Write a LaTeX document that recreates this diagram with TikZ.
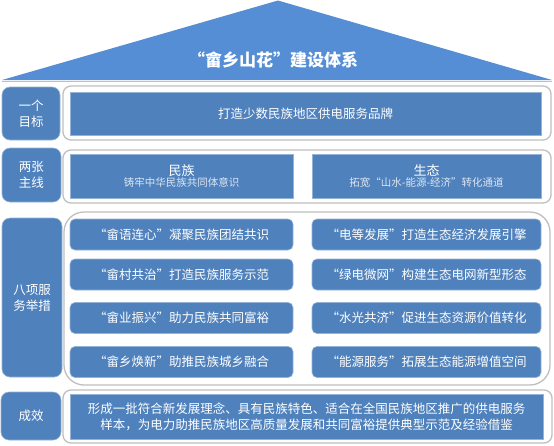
\documentclass[tikz,border=0pt]{standalone}
\usepackage{fontspec}
\newfontfamily\cjk{Noto Sans CJK SC}
\definecolor{triblue}{HTML}{558ED5}
\definecolor{boxblue}{HTML}{4F81BD}
\definecolor{edgeblue}{HTML}{95B3D7}
\definecolor{framegray}{HTML}{BFBFBF}
\definecolor{subtxt}{HTML}{DCE6F2}
\tikzset{
  lab/.style={fill=boxblue, draw=edgeblue, line width=0.6pt, rounded corners=8pt, text=white, align=center, inner sep=0pt, font=\cjk\fontsize{12.5}{16}\selectfont},
  frame/.style={fill=white, draw=framegray, line width=1.3pt, rounded corners=8pt, inner sep=0pt},
  inner/.style={fill=boxblue, draw=edgeblue, line width=0.8pt, text=white, align=center, inner sep=0pt},
  item/.style={fill=boxblue, draw=edgeblue, line width=0.6pt, rounded corners=5pt, text=white, inner sep=0pt, minimum width=223pt, minimum height=31pt, font=\cjk\fontsize{12.5}{15}\selectfont},
  itemr/.style={item, minimum width=229pt},
}
\begin{document}
\begin{tikzpicture}[x=1pt,y=-1pt]
\useasboundingbox (0,0) rectangle (554,445);
% roof
\draw[framegray, line width=1pt] (2,81.2) -- (552,81.2);
\fill[triblue] (2,80) -- (278,0.5) -- (552,80) -- cycle;
\node[text=white, font=\cjk\bfseries\fontsize{17}{20}\selectfont] (title) at (273,60) {“畲乡山花”建设体系};
% row 1
\node[lab, minimum width=58pt, minimum height=53pt] (l1) at (31,113.5) {一个\\目标};
\node[frame, minimum width=488pt, minimum height=54pt] (f1) at (307,113) {};
\node[inner, minimum width=471pt, minimum height=43pt, font=\cjk\fontsize{12.5}{15}\selectfont] (b1) at (305.5,113.5) {打造少数民族地区供电服务品牌};
% row 2
\node[lab, minimum width=59pt, minimum height=54pt] (l2) at (31.5,175) {两张\\主线};
\node[frame, minimum width=488pt, minimum height=53pt] (f2) at (307,176.5) {};
\node[inner, minimum width=223pt, minimum height=44pt] (b2a) at (181.5,176)
  {{\cjk\fontsize{13}{16}\selectfont 民族}\\[-1pt]{\cjk\color{subtxt}\fontsize{10.5}{13}\selectfont 铸牢中华民族共同体意识}};
\node[inner, minimum width=229pt, minimum height=44pt] (b2b) at (426.5,176)
  {{\cjk\fontsize{13}{16}\selectfont 生态}\\[-1pt]{\cjk\color{subtxt}\fontsize{10.5}{13}\selectfont 拓宽“山水-能源-经济”转化通道}};
% row 3
\node[lab, minimum width=60pt, minimum height=159pt] (l3) at (32,297.5) {八项服\\务举措};
\node[frame, rounded corners=20pt, minimum width=486pt, minimum height=173pt] (f3) at (307,298.5) {};
\node[item] (i1) at (181.5,234.5) {“畲语连心”凝聚民族团结共识};
\node[item] (i2) at (181.5,274.5) {“畲村共治”打造民族服务示范};
\node[item] (i3) at (181.5,318) {“畲业振兴”助力民族共同富裕};
\node[item] (i4) at (181.5,362) {“畲乡焕新”助推民族城乡融合};
\node[itemr] (j1) at (426.5,234.5) {“电等发展”打造生态经济发展引擎};
\node[itemr] (j2) at (426.5,274.5) {“绿电微网”构建生态电网新型形态};
\node[itemr] (j3) at (426.5,318) {“水光共济”促进生态资源价值转化};
\node[itemr] (j4) at (426.5,362) {“能源服务”拓展生态能源增值空间};
% row 4
\node[lab, minimum width=60pt, minimum height=48pt] (l4) at (31,416) {成效};
\node[frame, minimum width=489pt, minimum height=53pt] (f4) at (307.5,416.5) {};
\node[inner, minimum width=473pt, minimum height=45pt, font=\cjk\fontsize{12.5}{16}\selectfont] (b4) at (306.5,416.5)
  {形成一批符合新发展理念、具有民族特色、适合在全国民族地区推广的供电服务\\样本，为电力助推民族地区高质量发展和共同富裕提供典型示范及经验借鉴};
\end{tikzpicture}
\end{document}
